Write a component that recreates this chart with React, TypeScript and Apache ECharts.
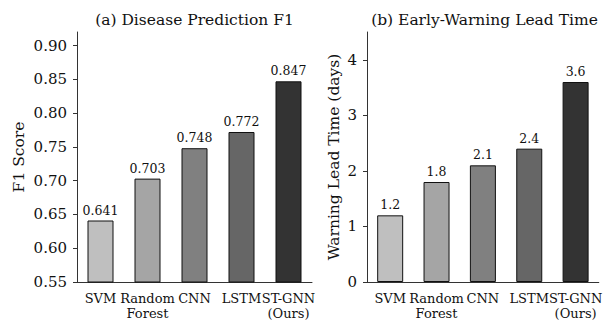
import React, { useEffect, useRef } from "react";
import * as echarts from "echarts";

const categories = ["SVM", "Random\nForest", "CNN", "LSTM", "ST-GNN\n(Ours)"];
const f1Scores = [0.641, 0.703, 0.748, 0.772, 0.847];
const leadTimes = [1.2, 1.8, 2.1, 2.4, 3.6];
const barColors = ["#bfbfbf", "#a5a5a5", "#808080", "#666666", "#333333"];
const f1Ticks = [0.55, 0.6, 0.65, 0.7, 0.75, 0.8, 0.85, 0.9];
const leadTicks = [0, 1, 2, 3, 4];
const titles = ["(a) Disease Prediction F1", "(b) Early-Warning Lead Time"];
const yNames = ["F1 Score", "Warning Lead Time (days)"];

const FONT = "DejaVu Serif";
const AXIS_COLOR = "#333333";

export default function App() {
  const ref = useRef<HTMLDivElement>(null);
  useEffect(() => {
    if (!ref.current) return;
    const chart = echarts.init(ref.current, undefined, { renderer: "svg" });

    const grids = [
      { left: 77, top: 32, width: 235, height: 254 },
      { left: 367, top: 32, width: 235, height: 254 },
    ];

    const xAxis = grids.map((_, i) => ({
      type: "category",
      gridIndex: i,
      data: categories,
      axisLine: { lineStyle: { color: AXIS_COLOR, width: 1 } },
      axisTick: { alignWithLabel: true, length: 4, lineStyle: { color: AXIS_COLOR } },
      axisLabel: {
        interval: 0,
        hideOverlap: false,
        fontFamily: FONT,
        fontSize: 13,
        color: "#111",
        margin: 9,
        lineHeight: 15,
      },
    }));

    const yAxis = [
      {
        type: "value",
        gridIndex: 0,
        min: 0.55,
        max: 0.92,
        interval: 0.05,
        name: yNames[0],
        nameLocation: "middle",
        nameGap: 50,
        nameTextStyle: { fontFamily: FONT, fontSize: 15.5, color: "#111" },
        splitLine: { show: false },
        axisLine: { show: true, lineStyle: { color: AXIS_COLOR, width: 1 } },
        axisTick: { show: true, length: 4, lineStyle: { color: AXIS_COLOR }, customValues: f1Ticks },
        axisLabel: {
          customValues: f1Ticks,
          fontFamily: FONT,
          fontSize: 15,
          color: "#111",
          margin: 10,
          formatter: (v: number) => v.toFixed(2),
        },
      },
      {
        type: "value",
        gridIndex: 1,
        min: 0,
        max: 4.5,
        interval: 1,
        name: yNames[1],
        nameLocation: "middle",
        nameGap: 25,
        nameTextStyle: { fontFamily: FONT, fontSize: 15.5, color: "#111" },
        splitLine: { show: false },
        axisLine: { show: true, lineStyle: { color: AXIS_COLOR, width: 1 } },
        axisTick: { show: true, length: 4, lineStyle: { color: AXIS_COLOR }, customValues: leadTicks },
        axisLabel: {
          customValues: leadTicks,
          fontFamily: FONT,
          fontSize: 15,
          color: "#111",
          margin: 10,
          formatter: (v: number) => String(v),
        },
      },
    ];

    const makeSeries = (vals: number[], idx: number, fmt: (v: number) => string) => ({
      type: "bar",
      xAxisIndex: idx,
      yAxisIndex: idx,
      barWidth: 26,
      data: vals.map((v, j) => ({
        value: v,
        itemStyle: { color: barColors[j], borderColor: "#111", borderWidth: 1 },
      })),
      label: {
        show: true,
        position: "top",
        distance: 4,
        fontFamily: FONT,
        fontSize: 12.5,
        color: "#111",
        formatter: (p: any) => fmt(p.value),
      },
    });

    chart.setOption({
      animation: false,
      backgroundColor: "#ffffff",
      graphic: titles.map((t, i) => ({
        type: "text",
        x: grids[i].left + grids[i].width / 2,
        y: 20,
        style: {
          text: t,
          textAlign: "center",
          textVerticalAlign: "middle",
          fontFamily: FONT,
          fontSize: 15.5,
          fill: "#111",
        },
      })),
      grid: grids,
      xAxis,
      yAxis,
      series: [
        makeSeries(f1Scores, 0, (v) => v.toFixed(3)),
        makeSeries(leadTimes, 1, (v) => v.toFixed(1)),
      ],
    });
    return () => chart.dispose();
  }, []);
  return (
    <div
      ref={ref}
      style={{ position: "fixed", left: 0, top: 0, width: 605, height: 321, background: "#fff" }}
    />
  );
}
